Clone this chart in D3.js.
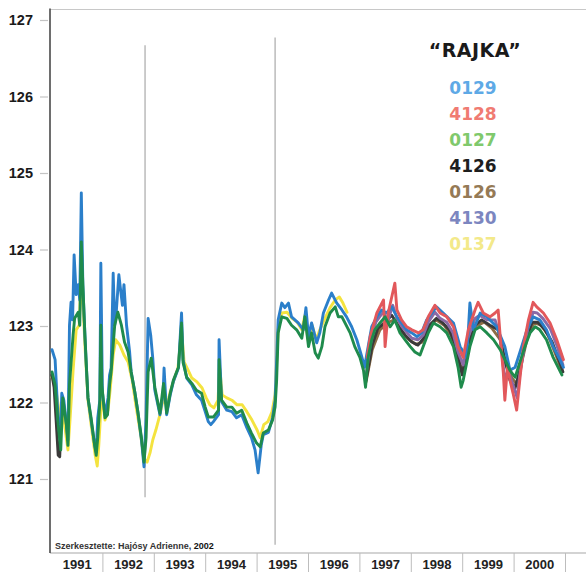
<!DOCTYPE html>
<html>
<head>
<meta charset="utf-8">
<script src="https://cdn.jsdelivr.net/npm/d3@7"></script>
<style>
  html, body { margin: 0; padding: 0; background: #fff; }
  svg { display: block; }
</style>
</head>
<body>
<svg id="chart" width="586" height="573"></svg>
<script>
// Weekly price series, one array of [year, value] pairs per code.
const s0129 = [
  [1991.01,122.69],[1991.07,122.56],[1991.13,121.77],[1991.17,121.51],[1991.20,122.12],[1991.24,122.03],
  [1991.28,121.77],[1991.32,121.51],[1991.35,123.01],[1991.38,123.31],[1991.41,123.08],[1991.44,123.93],
  [1991.48,123.41],[1991.52,123.54],[1991.55,123.34],[1991.58,124.74],[1991.61,123.54],[1991.65,122.88],
  [1991.68,122.45],[1991.71,122.06],[1991.77,121.77],[1991.84,121.44],[1991.87,121.35],[1991.90,121.80],
  [1991.94,122.03],[1991.96,123.82],[1991.99,122.14],[1992.04,121.84],[1992.10,122.06],[1992.13,122.36],
  [1992.16,122.45],[1992.20,123.69],[1992.23,123.01],[1992.26,123.18],[1992.31,123.67],[1992.35,123.44],
  [1992.38,123.27],[1992.41,123.54],[1992.46,123.01],[1992.52,122.66],[1992.55,122.40],[1992.62,122.14],
  [1992.68,121.88],[1992.75,121.51],[1992.80,121.16],[1992.84,121.80],[1992.88,123.10],[1992.93,122.88],
  [1992.97,122.58],[1993.01,122.16],[1993.11,121.84],[1993.17,122.10],[1993.19,122.45],[1993.24,121.84],
  [1993.31,122.10],[1993.37,122.27],[1993.47,122.45],[1993.53,123.17],[1993.56,122.56],[1993.63,122.32],
  [1993.73,122.23],[1993.82,122.10],[1993.92,122.03],[1993.99,121.88],[1994.05,121.75],[1994.10,121.71],
  [1994.15,121.75],[1994.25,121.84],[1994.26,122.82],[1994.31,122.01],[1994.41,121.90],[1994.51,121.88],
  [1994.60,121.80],[1994.70,121.84],[1994.80,121.67],[1994.89,121.54],[1994.96,121.38],[1995.02,121.08],
  [1995.08,121.44],[1995.12,121.58],[1995.22,121.61],[1995.30,121.80],[1995.35,122.03],[1995.41,123.08],
  [1995.48,123.30],[1995.54,123.24],[1995.61,123.30],[1995.67,123.12],[1995.80,123.04],[1995.90,122.95],
  [1995.95,123.24],[1996.00,122.86],[1996.06,123.04],[1996.16,122.78],[1996.22,122.91],[1996.29,123.17],
  [1996.39,123.34],[1996.45,123.43],[1996.55,123.30],[1996.65,123.21],[1996.74,123.12],[1996.84,122.99],
  [1996.94,122.82],[1997.04,122.59],[1997.09,122.46],[1997.16,122.73],[1997.23,122.99],[1997.33,123.12],
  [1997.42,123.21],[1997.52,123.17],[1997.62,123.25],[1997.72,123.12],[1997.81,123.04],[1997.91,122.95],
  [1998.01,122.91],[1998.11,122.86],[1998.20,122.91],[1998.30,123.08],[1998.49,123.25],[1998.62,123.17],
  [1998.82,123.04],[1998.95,122.73],[1999.08,122.59],[1999.14,123.30],[1999.21,122.95],[1999.34,123.17],
  [1999.47,123.12],[1999.66,122.99],[1999.82,122.73],[1999.92,122.42],[2000.02,122.46],[2000.11,122.65],
  [2000.25,122.95],[2000.37,123.12],[2000.50,123.08],[2000.63,122.95],[2000.76,122.73],[2000.89,122.56],
  [2000.96,122.46]
];

const s4128 = [
  [1997.14,122.59],[1997.20,122.86],[1997.33,123.17],[1997.46,123.34],[1997.49,122.73],[1997.55,123.17],
  [1997.65,123.47],[1997.68,123.56],[1997.72,123.21],[1997.81,123.08],[1997.91,122.99],[1998.01,122.95],
  [1998.14,122.91],[1998.23,122.95],[1998.33,123.12],[1998.46,123.27],[1998.56,123.17],[1998.69,123.12],
  [1998.82,122.99],[1998.91,122.73],[1999.01,122.59],[1999.11,122.95],[1999.24,123.21],[1999.30,123.31],
  [1999.40,123.17],[1999.53,123.12],[1999.63,123.17],[1999.69,123.21],[1999.73,122.86],[1999.79,122.39],
  [1999.82,122.03],[1999.87,122.46],[1999.92,122.29],[1999.98,122.12],[2000.05,121.90],[2000.11,122.29],
  [2000.18,122.73],[2000.28,123.08],[2000.37,123.31],[2000.44,123.25],[2000.57,123.17],[2000.70,123.04],
  [2000.83,122.82],[2000.96,122.56]
];

const s0127 = [
  [1991.01,122.40],[1991.07,122.23],[1991.13,121.71],[1991.18,121.38],[1991.22,122.06],[1991.29,121.71],
  [1991.32,121.44],[1991.35,122.23],[1991.42,122.88],[1991.45,123.10],[1991.52,123.18],[1991.55,123.01],
  [1991.58,124.10],[1991.61,123.54],[1991.65,122.88],[1991.68,122.45],[1991.71,122.06],[1991.77,121.80],
  [1991.84,121.44],[1991.87,121.31],[1991.90,121.54],[1991.94,122.01],[1991.96,123.01],[1991.98,122.23],
  [1992.04,121.80],[1992.09,121.84],[1992.13,122.23],[1992.16,122.40],[1992.20,122.75],[1992.23,123.01],
  [1992.29,123.18],[1992.36,123.01],[1992.42,122.79],[1992.49,122.66],[1992.55,122.40],[1992.62,122.14],
  [1992.68,121.88],[1992.75,121.54],[1992.80,121.22],[1992.84,121.54],[1992.88,122.40],[1992.94,122.58],
  [1993.01,122.20],[1993.11,121.86],[1993.18,122.25],[1993.24,121.86],[1993.31,122.12],[1993.37,122.29],
  [1993.47,122.46],[1993.53,123.04],[1993.56,122.52],[1993.63,122.33],[1993.73,122.25],[1993.82,122.16],
  [1993.92,122.12],[1993.99,121.94],[1994.05,121.81],[1994.15,121.81],[1994.25,121.90],[1994.26,122.56],
  [1994.31,122.03],[1994.41,121.94],[1994.51,121.94],[1994.60,121.86],[1994.70,121.90],[1994.80,121.73],
  [1994.89,121.60],[1994.99,121.47],[1995.06,121.42],[1995.12,121.60],[1995.22,121.64],[1995.30,121.77],
  [1995.35,121.94],[1995.38,122.29],[1995.41,122.91],[1995.48,123.12],[1995.58,123.10],[1995.67,123.01],
  [1995.77,122.95],[1995.87,122.84],[1995.93,123.12],[1996.00,122.73],[1996.06,122.91],[1996.13,122.65],
  [1996.19,122.58],[1996.26,122.73],[1996.32,122.99],[1996.42,123.17],[1996.52,123.25],[1996.58,123.12],
  [1996.65,123.12],[1996.71,123.04],[1996.81,122.91],[1996.90,122.73],[1997.00,122.59],[1997.07,122.42],
  [1997.11,122.20],[1997.16,122.59],[1997.23,122.82],[1997.29,122.95],[1997.39,123.04],[1997.49,123.12],
  [1997.59,122.99],[1997.68,123.08],[1997.78,122.91],[1997.88,122.82],[1997.98,122.73],[1998.07,122.66],
  [1998.17,122.62],[1998.23,122.73],[1998.33,122.91],[1998.43,123.04],[1998.56,122.99],[1998.69,122.91],
  [1998.82,122.73],[1998.91,122.46],[1998.97,122.20],[1999.01,122.29],[1999.14,122.73],[1999.24,122.95],
  [1999.34,122.99],[1999.47,122.91],[1999.60,122.82],[1999.73,122.69],[1999.82,122.56],[1999.92,122.42],
  [2000.02,122.33],[2000.11,122.52],[2000.21,122.73],[2000.31,122.91],[2000.41,122.99],[2000.50,122.95],
  [2000.63,122.82],[2000.76,122.59],[2000.93,122.36]
];

// null marks a break in the record
const s4126 = [
  [1991.01,122.36],[1991.05,122.20],[1991.09,121.77],[1991.13,121.31],[1991.16,121.29],[1991.18,121.64],
  [1991.22,122.03],[1991.23,null],
  [1997.12,122.29],[1997.24,122.75],[1997.35,122.97],[1997.49,123.05],[1997.62,123.14],[1997.74,123.01],
  [1997.88,122.88],[1998.01,122.79],[1998.13,122.75],[1998.24,122.84],[1998.35,123.01],[1998.49,123.10],
  [1998.60,123.05],[1998.74,122.95],[1998.86,122.75],[1998.99,122.36],[1999.10,122.75],[1999.24,123.01],
  [1999.37,123.08],[1999.53,123.01],[1999.69,122.95],[1999.80,122.62],[1999.92,122.29],[2000.02,122.19],
  [2000.11,122.42],[2000.23,122.82],[2000.35,123.05],[2000.46,123.05],[2000.60,122.95],[2000.74,122.79],
  [2000.87,122.56],[2000.95,122.40]
];

const s0126 = [
  [1997.12,122.27],[1997.24,122.69],[1997.39,122.95],[1997.55,123.05],[1997.68,123.08],[1997.82,122.92],
  [1997.96,122.82],[1998.09,122.76],[1998.21,122.79],[1998.35,122.97],[1998.48,123.08],[1998.64,123.01],
  [1998.77,122.88],[1998.89,122.66],[1998.99,122.40],[1999.12,122.79],[1999.26,123.00],[1999.42,123.05],
  [1999.57,122.97],[1999.73,122.82],[1999.84,122.49],[1999.96,122.32],[2000.06,122.23],[2000.16,122.56],
  [2000.27,122.88],[2000.39,123.04],[2000.53,123.01],[2000.66,122.88],[2000.79,122.66],[2000.93,122.42]
];

const s4130 = [
  [1997.12,122.36],[1997.20,122.75],[1997.31,123.05],[1997.45,123.18],[1997.55,123.08],[1997.64,123.27],
  [1997.72,123.10],[1997.82,122.99],[1997.92,122.91],[1998.01,122.84],[1998.13,122.82],[1998.23,122.88],
  [1998.33,123.05],[1998.46,123.18],[1998.56,123.10],[1998.69,123.05],[1998.81,122.91],[1998.91,122.66],
  [1999.01,122.49],[1999.10,122.84],[1999.24,123.10],[1999.33,123.14],[1999.47,123.08],[1999.63,123.08],
  [1999.72,122.88],[1999.82,122.29],[1999.88,122.42],[1999.98,122.23],[2000.06,122.06],[2000.11,122.36],
  [2000.19,122.69],[2000.27,122.97],[2000.37,123.18],[2000.45,123.17],[2000.56,123.10],[2000.70,122.97],
  [2000.83,122.75],[2000.95,122.49]
];

const s0137 = [
  [1991.01,122.33],[1991.07,122.23],[1991.13,121.97],[1991.18,121.64],[1991.22,121.90],[1991.28,121.58],
  [1991.32,121.38],[1991.36,121.77],[1991.42,122.42],[1991.48,122.95],[1991.54,123.01],[1991.58,123.73],
  [1991.61,123.34],[1991.65,122.75],[1991.71,122.03],[1991.77,121.71],[1991.85,121.31],[1991.89,121.17],
  [1991.92,121.44],[1991.96,121.90],[1992.00,122.03],[1992.04,121.77],[1992.10,121.90],[1992.14,122.16],
  [1992.20,122.62],[1992.25,122.82],[1992.33,122.75],[1992.41,122.62],[1992.49,122.53],[1992.57,122.29],
  [1992.64,121.97],[1992.72,121.64],[1992.80,121.27],[1992.86,121.22],[1992.92,121.35],[1992.97,121.51],
  [1993.03,121.64],[1993.11,121.84],[1993.17,122.03],[1993.25,121.97],[1993.31,122.14],[1993.38,122.29],
  [1993.46,122.45],[1993.53,122.95],[1993.58,122.53],[1993.66,122.42],[1993.73,122.32],[1993.83,122.27],
  [1993.93,122.19],[1994.01,122.06],[1994.08,121.97],[1994.16,121.93],[1994.24,122.03],[1994.27,122.49],
  [1994.32,122.10],[1994.41,122.06],[1994.51,122.03],[1994.61,121.97],[1994.71,121.97],[1994.80,121.88],
  [1994.90,121.77],[1995.00,121.64],[1995.06,121.54],[1995.13,121.71],[1995.21,121.75],[1995.29,121.88],
  [1995.35,122.10],[1995.41,122.95],[1995.48,123.17],[1995.58,123.18],[1995.68,123.10],[1995.78,123.05],
  [1995.87,122.95],[1995.93,123.14],[1995.99,122.82],[1996.07,123.01],[1996.15,122.82],[1996.22,122.95],
  [1996.32,123.10],[1996.42,123.24],[1996.52,123.34],[1996.60,123.38],[1996.67,123.30],[1996.75,123.18]
];

const codes       = ["0129", "4128", "0127", "4126", "0126", "4130", "0137"];
const lineColors  = ["#2b7fca", "#e2585b", "#1f8b4c", "#3a3a3a", "#8d6d45", "#8a6aa6", "#f4e33f"];
const keyColors   = ["#5ea9e6", "#f07b72", "#80c96c", "#1e1e1e", "#957a56", "#7c86c0", "#f3e98a"];
const seriesData  = [s0129, s4128, s0127, s4126, s0126, s4130, s0137];
const drawOrder   = ["0137", "0126", "4126", "4130", "0129", "4128", "0127"];

const years  = [1991, 1992, 1993, 1994, 1995, 1996, 1997, 1998, 1999, 2000];
const yTicks = [121, 122, 123, 124, 125, 126, 127];
// vertical reference lines: [year, from value, to value]
const markers = [[1992.82, 120.76, 126.67], [1995.35, 120.14, 126.77]];

const svg = d3.select("#chart");
svg.append("rect").attr("width", 586).attr("height", 573).attr("fill", "#fff");

const x = d3.scaleLinear().domain([1991, 2001]).range([51.5, 565.5]);
const y = d3.scaleLinear().domain([121, 127]).range([479, 20]);

const plotLeft = 50, plotTop = 9.5, plotBottom = 553, plotRight = 586;

// frame
svg.append("line").attr("x1", plotLeft).attr("x2", plotRight).attr("y1", plotTop).attr("y2", plotTop)
  .attr("stroke", "#c8c8c8").attr("stroke-width", 1.2);
svg.append("line").attr("x1", plotLeft).attr("x2", plotRight).attr("y1", plotBottom).attr("y2", plotBottom)
  .attr("stroke", "#a8a8a8").attr("stroke-width", 1.2);

// y axis
const yAxis = d3.axisLeft(y).tickValues(yTicks).tickSize(8).tickPadding(7).tickFormat(d3.format("d"));
const gy = svg.append("g").attr("transform", `translate(${plotLeft - 2},0)`).call(yAxis);
gy.select(".domain").remove();
gy.selectAll(".tick line").attr("stroke", "#c4c4c4").attr("stroke-width", 1.2);
gy.selectAll(".tick text")
  .attr("font-family", "'Liberation Sans', Arial, sans-serif")
  .attr("font-weight", "bold").attr("font-size", "14.5px").attr("fill", "#1a1a1a");

svg.append("line").attr("x1", plotLeft).attr("x2", plotLeft).attr("y1", plotTop - 1).attr("y2", plotBottom)
  .attr("stroke", "#4a4a4a").attr("stroke-width", 1.6);

// x axis: year bands with separators
const sepYears = years.slice(1).concat([2001]);
svg.append("g").selectAll("line").data(sepYears).join("line")
  .attr("x1", d => x(d)).attr("x2", d => x(d)).attr("y1", plotBottom).attr("y2", 572)
  .attr("stroke", "#bdbdbd").attr("stroke-width", 1);
svg.append("g").selectAll("text").data(years).join("text")
  .attr("x", d => x(d + 0.5)).attr("y", 569)
  .attr("text-anchor", "middle")
  .attr("font-family", "'Liberation Sans', Arial, sans-serif")
  .attr("font-weight", "bold").attr("font-size", "13px").attr("fill", "#222")
  .text(d => d);

// reference lines
svg.append("g").selectAll("line").data(markers).join("line")
  .attr("x1", d => x(d[0])).attr("x2", d => x(d[0]))
  .attr("y1", d => y(d[2])).attr("y2", d => y(d[1]))
  .attr("stroke", "#b0b0b0").attr("stroke-width", 1.3);

// series lines
const line = d3.line()
  .defined(d => d[1] !== null)
  .x(d => x(d[0])).y(d => y(d[1]))
  .curve(d3.curveLinear);

const gLines = svg.append("g");
drawOrder.forEach(code => {
  const i = codes.indexOf(code);
  gLines.append("path")
    .datum(seriesData[i])
    .attr("fill", "none")
    .attr("stroke", lineColors[i])
    .attr("stroke-width", 2.9)
    .attr("stroke-linejoin", "round")
    .attr("stroke-linecap", "round")
    .attr("d", line);
});

// key
const keyX = 473;
svg.append("text").attr("x", keyX + 2).attr("y", 57)
  .attr("text-anchor", "middle")
  .attr("font-family", "'DejaVu Sans', sans-serif")
  .attr("font-weight", "bold").attr("font-size", "19px").attr("letter-spacing", "0.5px")
  .attr("fill", "#1a1a1a")
  .text("“RAJKA”");

svg.append("g").selectAll("text").data(codes).join("text")
  .attr("x", keyX).attr("y", (d, i) => 94 + i * 26)
  .attr("text-anchor", "middle")
  .attr("font-family", "'DejaVu Sans', sans-serif")
  .attr("font-weight", "bold").attr("font-size", "17px")
  .attr("fill", (d, i) => keyColors[i])
  .text(d => d);

// credit line
svg.append("text").attr("x", 55).attr("y", 549)
  .attr("font-family", "'Liberation Sans', Arial, sans-serif")
  .attr("font-size", "9px").attr("font-weight", "bold").attr("fill", "#333")
  .text("Szerkesztette: Hajósy Adrienne, ")
  .append("tspan").attr("fill", "#111").text("2002");
</script>
</body>
</html>
